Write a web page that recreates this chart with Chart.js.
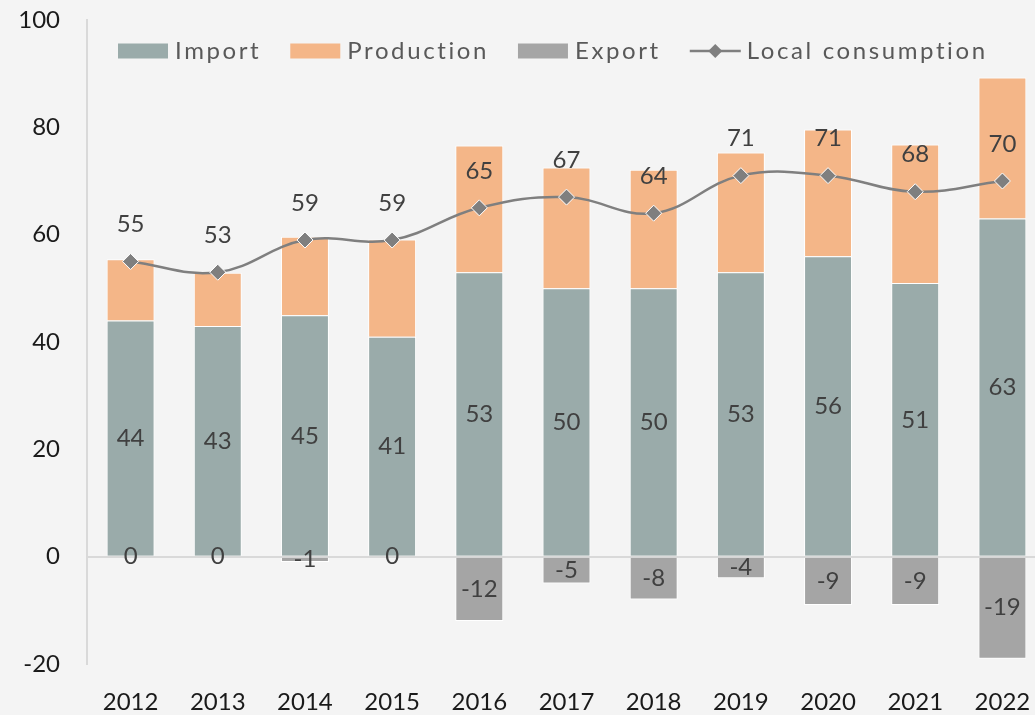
<!DOCTYPE html>
<html>
<head>
<meta charset="utf-8">
<script src="https://cdn.jsdelivr.net/npm/chart.js@4.4.1/dist/chart.umd.min.js"></script>
<style>
    html, body { margin: 0; padding: 0; background: #f4f4f4; overflow: hidden; }
</style>
</head>
<body>
<canvas id="balanceChart" width="1046" height="715"></canvas>
<script>
var years = ['2012', '2013', '2014', '2015', '2016', '2017', '2018', '2019', '2020', '2021', '2022'];
var importData = [44, 43, 45, 41, 53, 50, 50, 53, 56, 51, 63];
var productionData = [11.4, 9.9, 14.6, 18.1, 23.6, 22.5, 22.1, 22.3, 23.6, 25.8, 26.3];
var exportData = [0, 0, -1, 0, -12, -5, -8, -4, -9, -9, -19];
var consumptionData = [55, 53, 59, 59, 65, 67, 64, 71, 71, 68, 70];

var FONT = 'Lato';
Chart.defaults.font.family = FONT;
Chart.defaults.font.size = 24;

// numbers on import/export bars and above the consumption points
var valueLabels = {
    id: 'valueLabels',
    afterDatasetsDraw: function(chart) {
        var ctx = chart.ctx;
        var yScale = chart.scales.y;
        ctx.save();
        ctx.font = '24px ' + FONT;
        ctx.fillStyle = '#404040';
        ctx.textAlign = 'center';
        ctx.textBaseline = 'middle';
        chart.getDatasetMeta(0).data.forEach(function(bar, i) {
            ctx.fillText(String(importData[i]), bar.x, yScale.getPixelForValue(importData[i] / 2));
        });
        chart.getDatasetMeta(2).data.forEach(function(bar, i) {
            ctx.fillText(String(exportData[i]), bar.x, yScale.getPixelForValue(exportData[i] / 2));
        });
        chart.getDatasetMeta(3).data.forEach(function(pt, i) {
            ctx.fillText(String(consumptionData[i]), pt.x, pt.y - 37);
        });
        ctx.restore();
    }
};

// legend row drawn by hand so the line entry gets its diamond
var topLegend = {
    id: 'topLegend',
    afterDraw: function(chart) {
        var ctx = chart.ctx;
        var x = chart.chartArea.left + 31;
        var y = 51;
        ctx.save();
        ctx.font = '24px ' + FONT;
        ctx.letterSpacing = '2.6px';
        ctx.textBaseline = 'middle';
        ctx.textAlign = 'left';
        chart.data.datasets.forEach(function(ds) {
            if (ds.type === 'line') {
                ctx.strokeStyle = ds.borderColor;
                ctx.lineWidth = 2.5;
                ctx.beginPath();
                ctx.moveTo(x, y);
                ctx.lineTo(x + 51, y);
                ctx.stroke();
                ctx.fillStyle = ds.borderColor;
                ctx.beginPath();
                ctx.moveTo(x + 25.5, y - 7);
                ctx.lineTo(x + 32.5, y);
                ctx.lineTo(x + 25.5, y + 7);
                ctx.lineTo(x + 18.5, y);
                ctx.closePath();
                ctx.fill();
            } else {
                ctx.fillStyle = ds.backgroundColor;
                ctx.fillRect(x, y - 7.5, 50, 15);
            }
            x += 57;
            ctx.fillStyle = '#595959';
            ctx.fillText(ds.label, x, y);
            x += ctx.measureText(ds.label).width + 29;
        });
        ctx.restore();
    }
};

new Chart(document.getElementById('balanceChart').getContext('2d'), {
    type: 'bar',
    data: {
        labels: years,
        datasets: [{
            label: 'Import',
            data: importData,
            backgroundColor: '#9aabaa',
            borderColor: '#ffffff',
            borderWidth: 1,
            order: 1
        }, {
            label: 'Production',
            data: productionData,
            backgroundColor: '#f4b688',
            borderColor: '#ffffff',
            borderWidth: 1,
            order: 1
        }, {
            label: 'Export',
            data: exportData,
            backgroundColor: '#a5a5a5',
            borderColor: '#ffffff',
            borderWidth: 1,
            order: 1
        }, {
            type: 'line',
            label: 'Local consumption',
            data: consumptionData,
            stack: 'consumption',
            borderColor: '#7f7f7f',
            borderWidth: 2.5,
            tension: 0.4,
            pointStyle: 'rectRot',
            pointRadius: 8,
            pointBackgroundColor: '#7f7f7f',
            pointBorderColor: '#ffffff',
            pointBorderWidth: 1,
            order: 0
        }]
    },
    options: {
        responsive: false,
        animation: false,
        categoryPercentage: 1,
        barPercentage: 0.55,
        layout: { padding: { top: 20, left: 0, right: 0, bottom: 0 }, autoPadding: false },
        plugins: {
            legend: { display: false },
            tooltip: { enabled: false }
        },
        scales: {
            x: {
                stacked: true,
                grid: { display: false },
                border: { display: false },
                ticks: { color: '#1a1a1a', padding: 16, maxRotation: 0 },
                afterFit: function(scale) {
                    scale.height = 51;
                    scale.paddingLeft = 0;
                    scale.paddingRight = 0;
                }
            },
            y: {
                stacked: true,
                min: -20,
                max: 100,
                ticks: { stepSize: 20, color: '#1a1a1a', padding: 27 },
                grid: {
                    drawTicks: false,
                    lineWidth: 2,
                    color: function(c) { return c.tick && c.tick.value === 0 ? '#d9d9d9' : 'transparent'; }
                },
                border: { display: true, color: '#d9d9d9', width: 2 },
                afterFit: function(scale) {
                    scale.width = 87;
                    scale.paddingTop = 0;
                    scale.paddingBottom = 0;
                }
            }
        }
    },
    plugins: [valueLabels, topLegend]
});
</script>
</body>
</html>
